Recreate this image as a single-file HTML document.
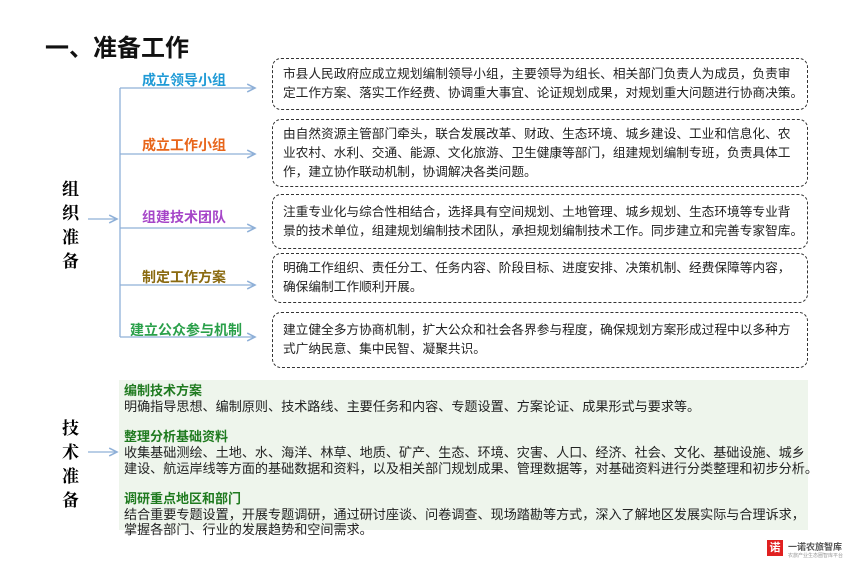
<!DOCTYPE html>
<html><head><meta charset="utf-8"><style>
body{margin:0;width:850px;height:567px;background:#fff;position:relative;overflow:hidden;font-family:"Liberation Sans","Noto Sans CJK SC",sans-serif;}
.a{position:absolute;white-space:nowrap;}
.box{position:absolute;left:272px;width:536px;border:1.3px dashed #333;border-radius:9px;box-sizing:border-box;padding:0 0 0 10px;font-size:12.7px;color:#222;line-height:19px;display:flex;align-items:center;white-space:nowrap;}
.lab{position:absolute;font-size:14px;font-weight:bold;white-space:nowrap;}
.side{position:absolute;left:62px;font-size:17px;font-weight:bold;line-height:24px;width:22px;font-family:"Noto Serif CJK SC",serif;}
.g{position:absolute;left:119px;top:380px;width:689px;height:150px;background:#eef5ec;}
.g .h{color:#1f7a1f;font-weight:bold;font-size:13px;line-height:16px;}
.g .t{color:#222;font-size:13.1px;line-height:16px;}
</style></head><body>
<div class="a" style="left:45px;top:28px;font-size:24px;font-weight:bold;color:#111;">一、准备工作</div>
<svg class="a" style="left:0;top:0" width="850" height="567">
<defs><marker id="m" markerWidth="8" markerHeight="8" refX="7" refY="4" orient="auto"><path d="M1,1 L7,4 L1,7" fill="none" stroke="#8fb0d8" stroke-width="1.2"/></marker></defs>
<g stroke="#8fb0d8" stroke-width="1.3" fill="none">
<line x1="120" y1="88" x2="120" y2="337"/>
<line x1="120" y1="88" x2="255" y2="88" marker-end="url(#m)"/>
<line x1="120" y1="154" x2="255" y2="154" marker-end="url(#m)"/>
<line x1="120" y1="228" x2="255" y2="228" marker-end="url(#m)"/>
<line x1="120" y1="285" x2="255" y2="285" marker-end="url(#m)"/>
<line x1="120" y1="337" x2="255" y2="337" marker-end="url(#m)"/>
<line x1="88" y1="219" x2="117" y2="219" marker-end="url(#m)"/>
<line x1="88" y1="452" x2="117" y2="452" marker-end="url(#m)"/>
</g></svg>
<div class="lab" style="left:142px;top:70px;color:#1f9ad6">成立领导小组</div>
<div class="lab" style="left:142px;top:135px;color:#e8651a">成立工作小组</div>
<div class="lab" style="left:142px;top:207px;color:#a646c8">组建技术团队</div>
<div class="lab" style="left:142px;top:267px;color:#8a6a10">制定工作方案</div>
<div class="lab" style="left:130px;top:320px;color:#2aa04a">建立公众参与机制</div>
<div class="side" style="top:176px">组<br>织<br>准<br>备</div>
<div class="side" style="top:415px">技<br>术<br>准<br>备</div>
<div class="box" style="top:58px;height:52px">市县人民政府应成立规划编制领导小组，主要领导为组长、相关部门负责人为成员，负责审<br>定工作方案、落实工作经费、协调重大事宜、论证规划成果，对规划重大问题进行协商决策。</div>
<div class="box" style="top:119px;height:68px">由自然资源主管部门牵头，联合发展改革、财政、生态环境、城乡建设、工业和信息化、农<br>业农村、水利、交通、能源、文化旅游、卫生健康等部门，组建规划编制专班，负责具体工<br>作，建立协作联动机制，协调解决各类问题。</div>
<div class="box" style="top:194px;height:55px">注重专业化与综合性相结合，选择具有空间规划、土地管理、城乡规划、生态环境等专业背<br>景的技术单位，组建规划编制技术团队，承担规划编制技术工作。同步建立和完善专家智库。</div>
<div class="box" style="top:253px;height:50px">明确工作组织、责任分工、任务内容、阶段目标、进度安排、决策机制、经费保障等内容，<br>确保编制工作顺利开展。</div>
<div class="box" style="top:312px;height:56px">建立健全多方协商机制，扩大公众和社会各界参与程度，确保规划方案形成过程中以多种方<br>式广纳民意、集中民智、凝聚共识。</div>
<div class="g">
<div class="a h" style="left:5px;top:3px">编制技术方案</div>
<div class="a t" style="left:5px;top:19px">明确指导思想、编制原则、技术路线、主要任务和内容、专题设置、方案论证、成果形式与要求等。</div>
<div class="a h" style="left:5px;top:49px">整理分析基础资料</div>
<div class="a t" style="left:5px;top:65px">收集基础测绘、土地、水、海洋、林草、地质、矿产、生态、环境、灾害、人口、经济、社会、文化、基础设施、城乡</div>
<div class="a t" style="left:5px;top:81px">建设、航运岸线等方面的基础数据和资料，以及相关部门规划成果、管理数据等，对基础资料进行分类整理和初步分析。</div>
<div class="a h" style="left:5px;top:111px">调研重点地区和部门</div>
<div class="a t" style="left:5px;top:127px">结合重要专题设置，开展专题调研，通过研讨座谈、问卷调查、现场踏勘等方式，深入了解地区发展实际与合理诉求，</div>
<div class="a t" style="left:5px;top:142px">掌握各部门、行业的发展趋势和空间需求。</div>
</div>
<div class="a" style="left:767px;top:540px;width:16px;height:16px;background:#e02020;color:#fff;font-size:11px;font-weight:bold;text-align:center;line-height:16px;">诺</div>
<div class="a" style="left:788px;top:540px;font-size:9px;font-weight:bold;color:#555">一诺农旅智库</div>
<div class="a" style="left:788px;top:552px;font-size:5px;color:#999">农旅产业生态圈智库平台</div>
</body></html>
